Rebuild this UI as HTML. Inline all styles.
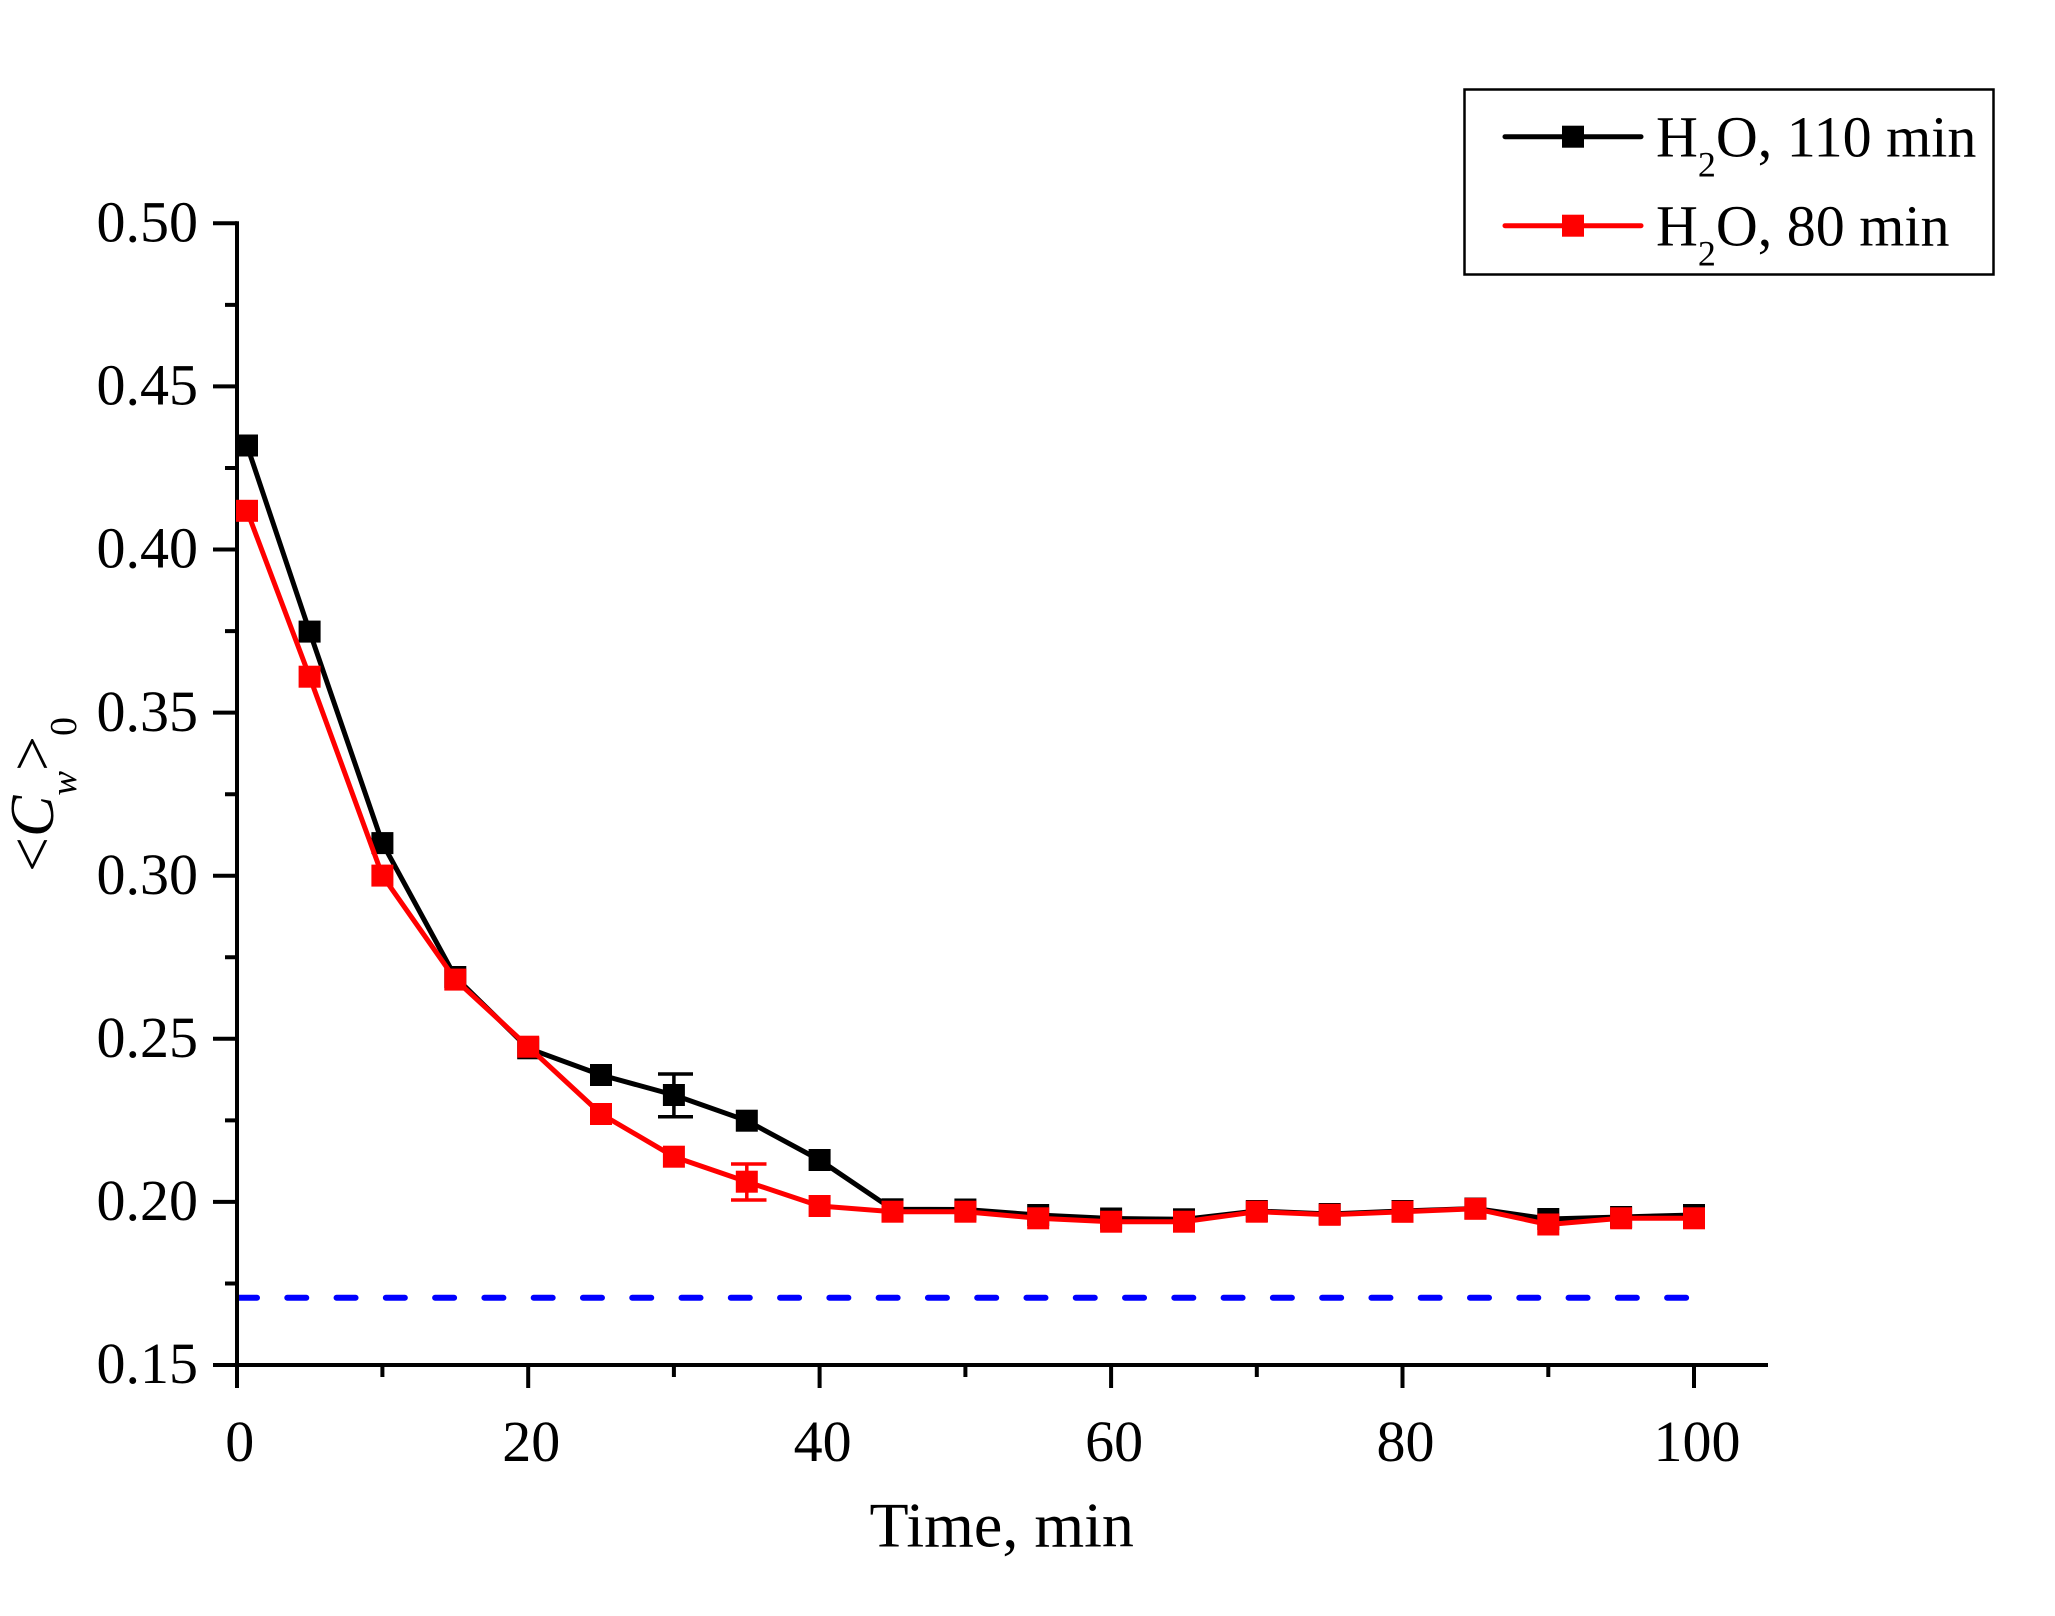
<!DOCTYPE html>
<html><head><meta charset="utf-8"><style>
html,body{margin:0;padding:0;background:#fff;}
svg{display:block;}
text{font-family:"Liberation Serif","Times New Roman",serif;fill:#000;}
</style></head><body>
<svg width="2055" height="1616" viewBox="0 0 2055 1616" xmlns="http://www.w3.org/2000/svg">
<rect width="2055" height="1616" fill="#fff"/>
<!-- blue dashed reference -->
<path d="M238 1297.7 H1690" stroke="#0000FF" stroke-width="6" stroke-linecap="round" stroke-dasharray="19 30.28" fill="none"/>
<!-- axes -->
<g stroke="#000" stroke-width="4" fill="none" stroke-linecap="butt">
<path d="M237 221.3 V1388"/>
<path d="M213 1365 H1768"/>
<path d="M213 223.3 H237 M213 386.4 H237 M213 549.5 H237 M213 712.6 H237 M213 875.7 H237 M213 1038.8 H237 M213 1201.9 H237"/>
<path d="M225 304.9 H237 M225 468 H237 M225 631.1 H237 M225 794.2 H237 M225 957.3 H237 M225 1120.4 H237 M225 1283.5 H237"/>
<path d="M528.2 1365 V1388 M819.6 1365 V1388 M1111.1 1365 V1388 M1402.5 1365 V1388 M1694 1365 V1388"/>
<path d="M382.4 1365 V1377 M673.9 1365 V1377 M965.4 1365 V1377 M1256.8 1365 V1377 M1548.3 1365 V1377"/>
</g>
<!-- y tick labels -->
<g font-size="58" text-anchor="end">
<text x="198" y="241.5">0.50</text>
<text x="198" y="404.6">0.45</text>
<text x="198" y="567.7">0.40</text>
<text x="198" y="730.8">0.35</text>
<text x="198" y="893.9">0.30</text>
<text x="198" y="1057">0.25</text>
<text x="198" y="1220.1">0.20</text>
<text x="198" y="1383">0.15</text>
</g>
<!-- x tick labels -->
<g font-size="58" text-anchor="middle">
<text x="239.7" y="1461">0</text>
<text x="531.2" y="1461">20</text>
<text x="822.6" y="1461">40</text>
<text x="1114.1" y="1461">60</text>
<text x="1405.5" y="1461">80</text>
<text x="1697" y="1461">100</text>
</g>
<!-- axis titles -->
<text x="869.5" y="1546.5" font-size="64">Time, min</text>
<text transform="translate(53,872) rotate(-90)" font-size="62">&lt;<tspan font-style="italic">C</tspan><tspan font-style="italic" font-size="37" dy="23">w</tspan><tspan dy="-23">&gt;</tspan><tspan font-size="38" dy="23">0</tspan></text>

<!-- black series -->
<polyline fill="none" stroke="#000" stroke-width="5" stroke-linejoin="round" points="247,445.5 309.6,631.6 382.4,843.1 455.3,977 528.2,1048.3 601,1075 673.9,1095 746.8,1120.7 819.6,1160 892.5,1209.3 965.4,1209.5 1038.2,1215 1111.1,1218.5 1184,1219.3 1256.8,1211 1329.7,1214 1402.5,1211 1475.4,1208.5 1548.3,1219 1621.1,1217 1694,1215"/>
<g stroke="#000" stroke-width="3.5">
<path d="M673.9 1074 V1116.7 M658 1074 H693 M658 1116.7 H693"/>
</g>
<g fill="#000">
<rect x="236" y="434.5" width="22" height="22"/>
<rect x="298.6" y="620.6" width="22" height="22"/>
<rect x="371.4" y="832.1" width="22" height="22"/>
<rect x="444.3" y="966" width="22" height="22"/>
<rect x="517.2" y="1037.3" width="22" height="22"/>
<rect x="590" y="1064" width="22" height="22"/>
<rect x="662.9" y="1084" width="22" height="22"/>
<rect x="735.8" y="1109.7" width="22" height="22"/>
<rect x="808.6" y="1149" width="22" height="22"/>
<rect x="881.5" y="1198.3" width="22" height="22"/>
<rect x="954.4" y="1198.5" width="22" height="22"/>
<rect x="1027.2" y="1204" width="22" height="22"/>
<rect x="1100.1" y="1207.5" width="22" height="22"/>
<rect x="1173" y="1208.3" width="22" height="22"/>
<rect x="1245.8" y="1200" width="22" height="22"/>
<rect x="1318.7" y="1203" width="22" height="22"/>
<rect x="1391.5" y="1200" width="22" height="22"/>
<rect x="1464.4" y="1197.5" width="22" height="22"/>
<rect x="1537.3" y="1208" width="22" height="22"/>
<rect x="1610.1" y="1206" width="22" height="22"/>
<rect x="1683" y="1204" width="22" height="22"/>
</g>

<!-- red series -->
<polyline fill="none" stroke="#FF0000" stroke-width="5" stroke-linejoin="round" points="247,510.8 309.6,676.7 382.4,875.6 455.3,979.6 528.2,1046.7 601,1114 673.9,1156.7 746.8,1181.7 819.6,1206 892.5,1211.7 965.4,1211.7 1038.2,1218.3 1111.1,1221.7 1184,1221.7 1256.8,1211.7 1329.7,1214.8 1402.5,1211.8 1475.4,1208.8 1548.3,1224.5 1621.1,1218.3 1694,1218.3"/>
<g stroke="#FF0000" stroke-width="3.5">
<path d="M746.8 1164 V1200 M731 1164 H766.5 M731 1200 H766.5"/>
</g>
<g fill="#FF0000">
<rect x="236" y="499.8" width="22" height="22"/>
<rect x="298.6" y="665.7" width="22" height="22"/>
<rect x="371.4" y="864.6" width="22" height="22"/>
<rect x="444.3" y="968.6" width="22" height="22"/>
<rect x="517.2" y="1035.7" width="22" height="22"/>
<rect x="590" y="1103" width="22" height="22"/>
<rect x="662.9" y="1145.7" width="22" height="22"/>
<rect x="735.8" y="1170.7" width="22" height="22"/>
<rect x="808.6" y="1195" width="22" height="22"/>
<rect x="881.5" y="1200.7" width="22" height="22"/>
<rect x="954.4" y="1200.7" width="22" height="22"/>
<rect x="1027.2" y="1207.3" width="22" height="22"/>
<rect x="1100.1" y="1210.7" width="22" height="22"/>
<rect x="1173" y="1210.7" width="22" height="22"/>
<rect x="1245.8" y="1200.7" width="22" height="22"/>
<rect x="1318.7" y="1203.8" width="22" height="22"/>
<rect x="1391.5" y="1200.8" width="22" height="22"/>
<rect x="1464.4" y="1197.8" width="22" height="22"/>
<rect x="1537.3" y="1213.5" width="22" height="22"/>
<rect x="1610.1" y="1207.3" width="22" height="22"/>
<rect x="1683" y="1207.3" width="22" height="22"/>
</g>

<!-- legend -->
<rect x="1464.5" y="89.5" width="529" height="185" fill="#fff" stroke="#000" stroke-width="2.5"/>
<path d="M1505 136.7 H1641" stroke="#000" stroke-width="5" stroke-linecap="round"/>
<rect x="1562" y="125.7" width="22" height="22" fill="#000"/>
<path d="M1505 225.7 H1641" stroke="#FF0000" stroke-width="5" stroke-linecap="round"/>
<rect x="1562" y="214.7" width="22" height="22" fill="#FF0000"/>
<text x="1656" y="156.7" font-size="58">H<tspan font-size="36" dy="20">2</tspan><tspan dy="-20">O, 110 min</tspan></text>
<text x="1656" y="245.5" font-size="58">H<tspan font-size="36" dy="20">2</tspan><tspan dy="-20">O, 80 min</tspan></text>
</svg>
</body></html>
